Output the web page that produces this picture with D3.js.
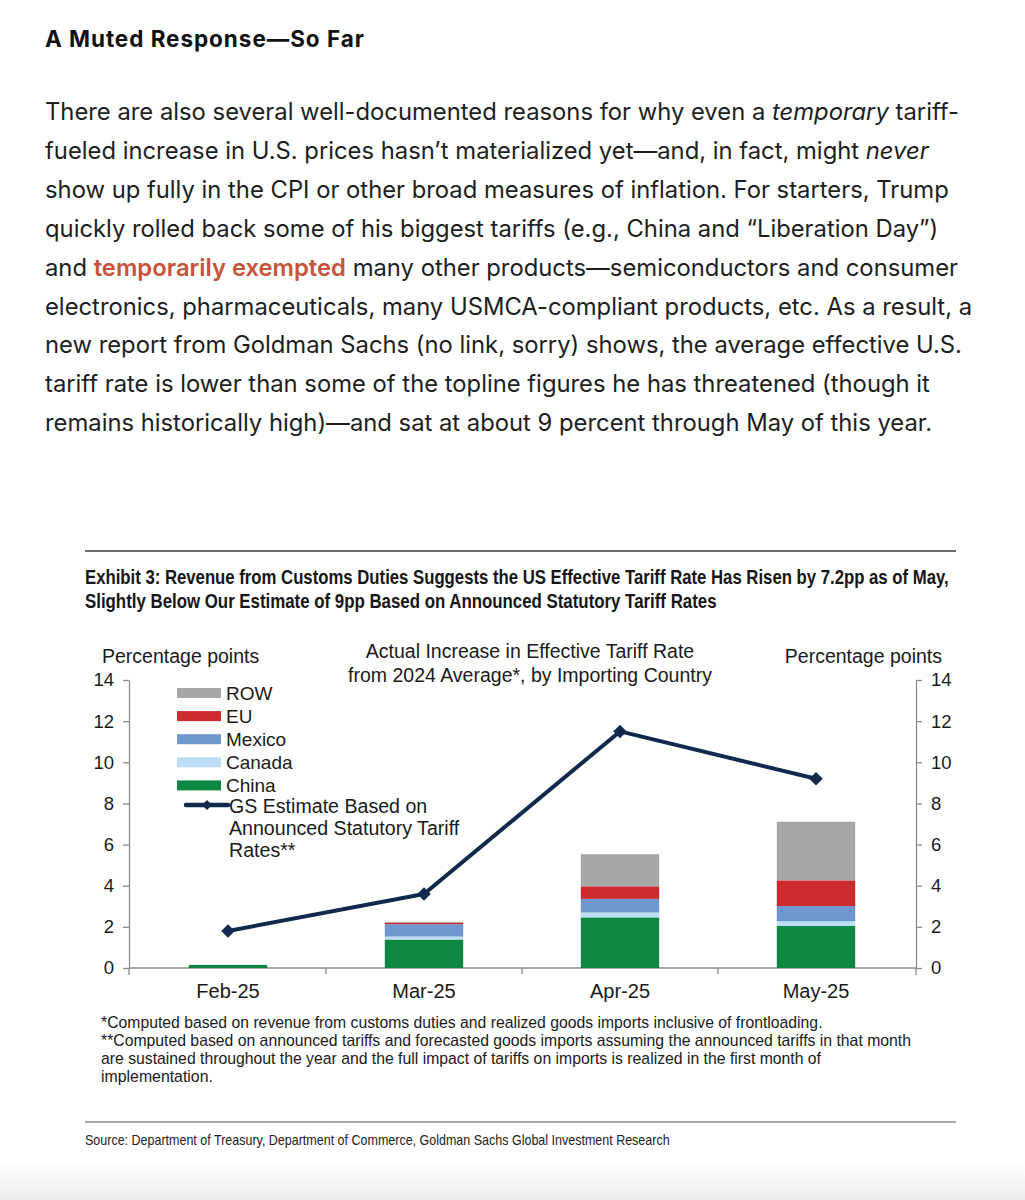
<!DOCTYPE html>
<html>
<head>
<meta charset="utf-8">
<script src="https://cdn.jsdelivr.net/npm/d3@7"></script>
<style>
  html, body { margin: 0; padding: 0; background: #fff; }
  svg { display: block; }
</style>
</head>
<body>
<svg id="page" width="1025" height="1200"></svg>
<script>
// ---------- DATA ----------
const months = ["Feb-25", "Mar-25", "Apr-25", "May-25"];
const seriesNames = ["China", "Canada", "Mexico", "EU", "ROW"];
const china  = [0.15, 1.38, 2.46, 2.05];
const canada = [0.00, 0.15, 0.24, 0.22];
const mexico = [0.00, 0.60, 0.66, 0.74];
const eu     = [0.00, 0.08, 0.61, 1.25];
const row    = [0.00, 0.03, 1.56, 2.85];
const gsEstimate = [1.8, 3.6, 11.5, 9.2];
const yTicks = [0, 2, 4, 6, 8, 10, 12, 14];
const legendOrder = ["ROW", "EU", "Mexico", "Canada", "China"];
const gsLegendLines = ["GS Estimate Based on", "Announced Statutory Tariff", "Rates**"];

const colors = {
  China: "#0e8743",
  Canada: "#bcdcf3",
  Mexico: "#6e97cd",
  EU: "#cd2a2e",
  ROW: "#a6a6a6"
};
const lineColor = "#10294d";

const svg = d3.select("#page");

// condensed text: draw at full size, then squeeze horizontally to the target width
function condensed(parent, s, x0, y0, size, weight, fill, target) {
  const g = parent.append("g");
  const t = g.append("text").attr("x", 0).attr("y", 0)
    .attr("font-family", "'Liberation Sans', Arial, sans-serif")
    .attr("font-size", size).attr("font-weight", weight).attr("fill", fill)
    .text(s);
  const w = t.node().getComputedTextLength();
  const sx = w > 0 ? target / w : 1;
  g.attr("transform", `translate(${x0},${y0}) scale(${sx.toFixed(4)},1)`);
  return t;
}

// ---------- ARTICLE TEXT ----------
const articleFont = "Inter, 'Noto Sans', sans-serif";
const textColor = "#1e1e1e";
svg.append("text")
  .attr("x", 45).attr("y", 46.5)
  .attr("font-family", articleFont).attr("font-size", 22.5).attr("font-weight", 700)
  .attr("fill", "#111")
  .attr("letter-spacing", 0.95)
  .text("A Muted Response\u2014So Far");

const articleLines = [
  [["There are also several well-documented reasons for why even a ", ""], ["temporary", "i"], [" tariff-", ""]],
  [["fueled increase in U.S. prices hasn\u2019t materialized yet\u2014and, in fact, might ", ""], ["never", "i"]],
  [["show up fully in the CPI or other broad measures of inflation. For starters, Trump", ""]],
  [["quickly rolled back some of his biggest tariffs (e.g., China and \u201cLiberation Day\u201d)", ""]],
  [["and ", ""], ["temporarily exempted", "r"], [" many other products\u2014semiconductors and consumer", ""]],
  [["electronics, pharmaceuticals, many USMCA-compliant products, etc. As a result, a", ""]],
  [["new report from Goldman Sachs (no link, sorry) shows, the average effective U.S.", ""]],
  [["tariff rate is lower than some of the topline figures he has threatened (though it", ""]],
  [["remains historically high)\u2014and sat at about 9 percent through May of this year.", ""]]
];
articleLines.forEach((parts, i) => {
  const t = svg.append("text")
    .attr("x", 45).attr("y", 120 + i * 38.9)
    .attr("font-family", articleFont).attr("font-size", 23.8)
    .attr("fill", textColor);
  parts.forEach(([s, style]) => {
    const ts = t.append("tspan").text(s);
    if (style === "i") ts.attr("font-style", "italic");
    if (style === "r") ts.attr("fill", "#c5543a").attr("font-weight", 600);
  });
});

// ---------- CHART FRAME ----------
const chartFont = "'Liberation Sans', Arial, sans-serif";

svg.append("line").attr("x1", 85).attr("x2", 956).attr("y1", 551).attr("y2", 551)
  .attr("stroke", "#6b6b6b").attr("stroke-width", 2);
svg.append("line").attr("x1", 85).attr("x2", 956).attr("y1", 1122).attr("y2", 1122)
  .attr("stroke", "#8a8a8a").attr("stroke-width", 1.5);

const titleLines = [
  ["Exhibit 3: Revenue from Customs Duties Suggests the US Effective Tariff Rate Has Risen by 7.2pp as of May,", 864],
  ["Slightly Below Our Estimate of 9pp Based on Announced Statutory Tariff Rates", 632]
];
titleLines.forEach(([s, w], i) => {
  condensed(svg, s, 85, 583.5 + i * 24, 20.5, 700, "#161616", w);
});

// ---------- SCALES ----------
const x = d3.scaleBand().domain(months).range([130, 914]).paddingInner(0.6).paddingOuter(0.3);
const y = d3.scaleLinear().domain([0, 14]).range([968, 680]);

// ---------- AXES ----------
const axisColor = "#8c8c8c";
const labelColor = "#1a1a1a";

const leftAxis = svg.append("g").attr("transform", "translate(129,0)")
  .call(d3.axisLeft(y).tickValues(yTicks).tickSize(6).tickPadding(9).tickSizeOuter(0));
const rightAxis = svg.append("g").attr("transform", "translate(916,0)")
  .call(d3.axisRight(y).tickValues(yTicks).tickSize(6).tickPadding(9).tickSizeOuter(0));
[leftAxis, rightAxis].forEach(g => {
  g.select(".domain").attr("stroke", axisColor).attr("stroke-width", 1.3);
  g.selectAll(".tick line").attr("stroke", axisColor).attr("stroke-width", 1.3);
  g.selectAll(".tick text").attr("font-family", chartFont).attr("font-size", 18.5).attr("fill", labelColor);
});

// bottom axis
const bottom = svg.append("g").attr("transform", "translate(0,968)")
  .call(d3.axisBottom(x).tickSize(0).tickPadding(16));
bottom.select(".domain").remove();
bottom.selectAll(".tick text").attr("font-family", chartFont).attr("font-size", 20).attr("fill", labelColor);
svg.append("line").attr("x1", 129).attr("x2", 916).attr("y1", 968).attr("y2", 968)
  .attr("stroke", axisColor).attr("stroke-width", 1.3);
const boundaries = months.slice(1).map(m => x(m) - x.step() * x.paddingInner() / 2);
svg.selectAll(".xb").data(boundaries).enter().append("line")
  .attr("x1", d => d).attr("x2", d => d).attr("y1", 968).attr("y2", 974)
  .attr("stroke", axisColor).attr("stroke-width", 1.3);
svg.append("line").attr("x1", 129).attr("x2", 129).attr("y1", 968).attr("y2", 975)
  .attr("stroke", axisColor).attr("stroke-width", 1.3);
svg.append("line").attr("x1", 916).attr("x2", 916).attr("y1", 968).attr("y2", 975)
  .attr("stroke", axisColor).attr("stroke-width", 1.3);

// axis titles
const titleSize = 19.5;
svg.append("text").attr("x", 102).attr("y", 663)
  .attr("font-family", chartFont).attr("font-size", titleSize).attr("fill", labelColor)
  .text("Percentage points");
svg.append("text").attr("x", 942).attr("y", 663).attr("text-anchor", "end")
  .attr("font-family", chartFont).attr("font-size", titleSize).attr("fill", labelColor)
  .text("Percentage points");
svg.append("text").attr("x", 530).attr("y", 658).attr("text-anchor", "middle")
  .attr("font-family", chartFont).attr("font-size", titleSize).attr("fill", labelColor)
  .text("Actual Increase in Effective Tariff Rate");
svg.append("text").attr("x", 530).attr("y", 682).attr("text-anchor", "middle")
  .attr("font-family", chartFont).attr("font-size", titleSize).attr("fill", labelColor)
  .text("from 2024 Average*, by Importing Country");

// ---------- BARS ----------
const table = months.map((m, i) => ({
  month: m, China: china[i], Canada: canada[i], Mexico: mexico[i], EU: eu[i], ROW: row[i]
}));
const stacked = d3.stack().keys(seriesNames)(table);
svg.append("g").selectAll("g").data(stacked).enter().append("g")
  .attr("fill", d => colors[d.key])
  .selectAll("rect").data(d => d).enter().append("rect")
  .attr("x", d => x(d.data.month))
  .attr("width", x.bandwidth())
  .attr("y", d => y(d[1]))
  .attr("height", d => Math.max(0, y(d[0]) - y(d[1])));

// ---------- LINE ----------
const diamond = d3.symbol(d3.symbolSquare, 92);
const lineGen = d3.line().x((d, i) => x(months[i]) + x.bandwidth() / 2).y(d => y(d));
svg.append("path").datum(gsEstimate)
  .attr("d", lineGen).attr("fill", "none")
  .attr("stroke", lineColor).attr("stroke-width", 4).attr("stroke-linejoin", "round");
svg.selectAll(".gsm").data(gsEstimate).enter().append("path")
  .attr("d", diamond)
  .attr("transform", (d, i) => `translate(${x(months[i]) + x.bandwidth() / 2},${y(d)}) rotate(45)`)
  .attr("fill", lineColor);

// ---------- LEGEND ----------
legendOrder.forEach((k, i) => {
  const cy = 693 + i * 23.1;
  svg.append("rect").attr("x", 177).attr("y", cy - 5).attr("width", 44).attr("height", 10)
    .attr("fill", colors[k]);
  svg.append("text").attr("x", 226).attr("y", cy + 6.5)
    .attr("font-family", chartFont).attr("font-size", 19).attr("fill", labelColor)
    .text(k);
});
svg.append("line").attr("x1", 186).attr("x2", 228).attr("y1", 805).attr("y2", 805)
  .attr("stroke", lineColor).attr("stroke-width", 4.5).attr("stroke-linecap", "round");
svg.append("path").attr("d", d3.symbol(d3.symbolSquare, 50))
  .attr("transform", "translate(207,805) rotate(45)").attr("fill", lineColor);
gsLegendLines.forEach((s, i) => {
  svg.append("text").attr("x", 229).attr("y", 813 + i * 21.8)
    .attr("font-family", chartFont).attr("font-size", 19.6).attr("fill", labelColor)
    .text(s);
});

// ---------- FOOTNOTES ----------
const footnotes = [
  ["*Computed based on revenue from customs duties and realized goods imports inclusive of frontloading.", 722],
  ["**Computed based on announced tariffs and forecasted goods imports assuming the announced tariffs in that month", 811],
  ["are sustained throughout the year and the full impact of tariffs on imports is realized in the first month of", 721],
  ["implementation.", 112]
];
footnotes.forEach(([s, w], i) => {
  condensed(svg, s, 101, 1028 + i * 18, 16.5, 400, "#1a1a1a", w);
});

condensed(svg, "Source: Department of Treasury, Department of Commerce, Goldman Sachs Global Investment Research",
  85, 1144.5, 14, 400, "#222", 585);

// bottom fade
const defs = svg.append("defs");
const grad = defs.append("linearGradient").attr("id", "fade").attr("x1", 0).attr("x2", 0).attr("y1", 0).attr("y2", 1);
grad.append("stop").attr("offset", "0%").attr("stop-color", "#ffffff");
grad.append("stop").attr("offset", "100%").attr("stop-color", "#ececec");
svg.append("rect").attr("x", 0).attr("y", 1160).attr("width", 1025).attr("height", 40).attr("fill", "url(#fade)");
</script>
</body>
</html>
